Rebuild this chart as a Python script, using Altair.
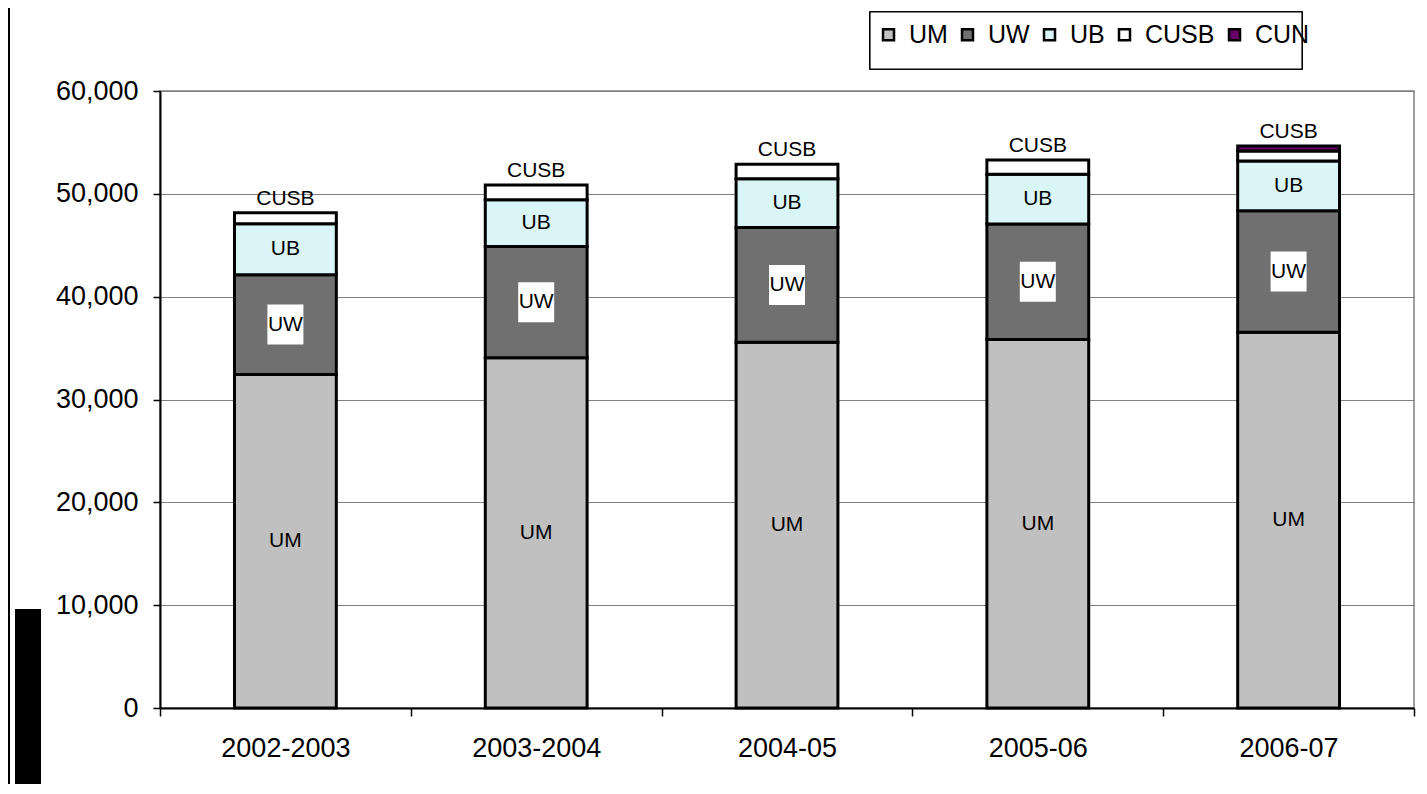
import altair as alt
import pandas as pd

years = ["2002-2003", "2003-2004", "2004-05", "2005-06", "2006-07"]
series = ["UM", "UW", "UB", "CUSB", "CUN"]
um = [32430, 34050, 35560, 35830, 36530]
uw = [9710, 10830, 11170, 11230, 11820]
ub = [4950, 4540, 4730, 4850, 4850]
cusb = [1070, 1450, 1420, 1390, 970]
cun = [0, 0, 0, 0, 490]
colors = ["#c0c0c0", "#707070", "#d9f5f5", "#ffffff", "#660066"]
y_ticks = [0, 10000, 20000, 30000, 40000, 50000, 60000]

rows = []
totals = []
for i, yr in enumerate(years):
    base = 0
    for k, (name, vals) in enumerate(zip(series, [um, uw, ub, cusb, cun])):
        v = vals[i]
        rows.append(dict(year=yr, series=name, order=k, value=v,
                         bottom=base, top=base + v, mid=base + v / 2))
        base += v
    totals.append(dict(year=yr, series="CUSB", total=base))
df = pd.DataFrame(rows)
bars_df = df[df.value > 0]
lab_df = df[df.series.isin(["UM", "UW", "UB"])]
uw_df = df[df.series == "UW"]
tot_df = pd.DataFrame(totals)

x_scale = alt.Scale(paddingInner=0, paddingOuter=0)
x_enc = alt.X(
    "year:N", sort=years, scale=x_scale,
    axis=alt.Axis(title=None, labelAngle=0, tickBand="extent", labelFontSize=27,
                  labelPadding=19, tickSize=8, tickColor="black", tickWidth=1.5,
                  domainColor="black", domainWidth=2, labelColor="black", grid=False),
)
y_scale = alt.Scale(domain=[0, 60000], nice=False)

# legend frame (drawn behind legend entries)
legend_box = alt.Chart(tot_df).mark_rect(fill="white", stroke="black", strokeWidth=1.2).encode(
    x=alt.value(710), x2=alt.value(1142), y=alt.value(-79), y2=alt.value(-22))

bars = alt.Chart(bars_df).mark_bar(
    stroke="black", strokeWidth=3, width=alt.RelativeBandSize(0.406)
).encode(
    x=x_enc,
    y=alt.Y("bottom:Q", scale=y_scale,
            axis=alt.Axis(title=None, values=y_ticks, format=",.0f", labelFontSize=27,
                          labelPadding=15, tickSize=7, tickColor="black", tickWidth=1.5,
                          domainColor="black", domainWidth=2, labelColor="black",
                          gridColor="#808080", gridWidth=1)),
    y2="top:Q",
    color=alt.Color("series:N", scale=alt.Scale(domain=series, range=colors),
                    legend=alt.Legend(
                        title=None, orient="none", legendX=716, legendY=-69,
                        direction="horizontal",
                        symbolType="square", symbolSize=121, symbolStrokeColor="black",
                        symbolStrokeWidth=2.5, labelFontSize=25, labelColor="black",
                        labelOffset=8, columnPadding=7, padding=0)),
    order=alt.Order("order:Q"),
)

uw_box = alt.Chart(uw_df).mark_point(
    shape="M-0.9,-1L0.9,-1L0.9,1L-0.9,1Z", size=1600, filled=True,
    color="white", opacity=1, strokeWidth=0,
).encode(x=alt.X("year:N", sort=years, scale=x_scale), y=alt.Y("mid:Q", scale=y_scale))

seg_labels = alt.Chart(lab_df).mark_text(fontSize=21, color="black").encode(
    x=alt.X("year:N", sort=years, scale=x_scale), y=alt.Y("mid:Q", scale=y_scale),
    text="series:N")

top_labels = alt.Chart(tot_df).mark_text(fontSize=21, color="black", baseline="bottom", dy=-4).encode(
    x=alt.X("year:N", sort=years, scale=x_scale), y=alt.Y("total:Q", scale=y_scale),
    text="series:N")

left_border = alt.Chart(tot_df).mark_rule(color="black", strokeWidth=1.5).encode(
    x=alt.value(-151), y=alt.value(-95), y2=alt.value(710))

black_block = alt.Chart(tot_df).mark_rect(color="black").encode(
    x=alt.value(-145), x2=alt.value(-119), y=alt.value(518), y2=alt.value(710))

chart = alt.layer(legend_box, bars, uw_box, seg_labels, top_labels, left_border, black_block).properties(
    width=1254, height=617,
    autosize=alt.AutoSizeParams(type="none"),
    padding={"left": 152, "top": 83, "right": 5, "bottom": 76},
).configure(font="Liberation Sans").configure_view(stroke="#808080", strokeWidth=1.5)

chart.save("out.html", embed_options={"renderer": "svg", "actions": False})
